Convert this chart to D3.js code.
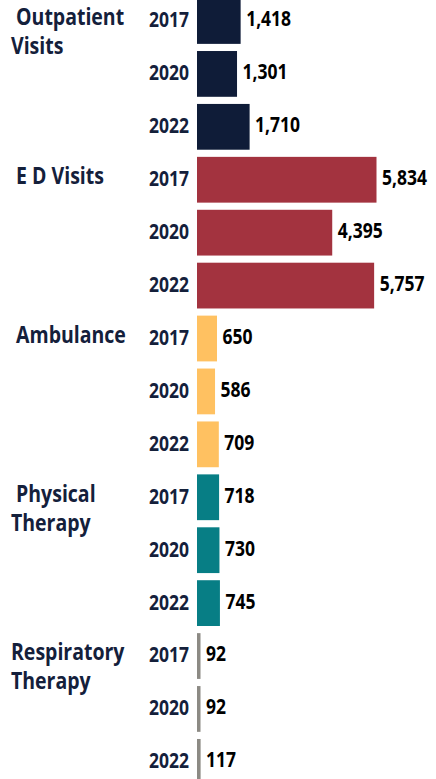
<!DOCTYPE html>
<html>
<head>
<meta charset="utf-8">
<script src="https://cdn.jsdelivr.net/npm/d3@7"></script>
<style>
    html, body { margin: 0; padding: 0; background: #fff; }
    svg { display: block; }
    text { font-family: "Open Sans", Lato, sans-serif; font-weight: 700; white-space: pre; }
</style>
</head>
<body>
<div id="chart"></div>
<script>
// Visits by service line, 2017 / 2020 / 2022
const width = 436;
const height = 779;

const categories = ["Outpatient Visits", "ED Visits", "Ambulance", "Physical Therapy", "Respiratory Therapy"];
const categoryLines = [[" Outpatient", "Visits"], [" E D Visits"], [" Ambulance"], [" Physical", "Therapy"], ["Respiratory", "Therapy"]];
const years = ["2017", "2020", "2022"];

const outpatientVisits = [1418, 1301, 1710];
const edVisits = [5834, 4395, 5757];
const ambulance = [650, 586, 709];
const physicalTherapy = [718, 730, 745];
const respiratoryTherapy = [92, 92, 117];

const seriesValues = [outpatientVisits, edVisits, ambulance, physicalTherapy, respiratoryTherapy];
const colors = ["#0f1c38", "#a3333f", "#ffc161", "#077e85", "#8c8a84"];

const navy = "#14203b";
const stretch = 1.19; // text in the original is a bit taller than wide

// Flatten into rows
const rows = [];
categories.forEach((cat, ci) => {
    years.forEach((year, yi) => {
        rows.push({ key: cat + "|" + year, cat, ci, year, yi, value: seriesValues[ci][yi] });
    });
});

const step = 52.92;
const padInner = 0.135;
const y = d3.scaleBand()
    .domain(rows.map(d => d.key))
    .range([-1.9, -1.9 + step * (rows.length - padInner)])
    .paddingInner(padInner)
    .paddingOuter(0);

const x = d3.scaleLinear()
    .domain([0, d3.max(edVisits)])
    .range([197, 376.5]);

const svg = d3.select("#chart")
    .append("svg")
    .attr("width", width)
    .attr("height", height);

// Bars
svg.selectAll(".bar")
    .data(rows)
    .enter()
    .append("rect")
    .attr("class", "bar")
    .attr("x", x(0))
    .attr("y", d => y(d.key))
    .attr("width", d => Math.max(x(d.value) - x(0), 3.5))
    .attr("height", y.bandwidth())
    .attr("fill", d => colors[d.ci]);

const fontSize = 17.5;
const catFontSize = 19.5;
const capShift = fontSize * 0.714 * stretch / 2;

function stretchedText(sel, px, py, size) {
    return sel.attr("transform", d => `translate(${px(d)},${py(d)}) scale(1,${stretch})`)
        .style("font-size", size + "px");
}

// Year labels
svg.selectAll(".year-label")
    .data(rows)
    .enter()
    .append("text")
    .attr("class", "year-label")
    .attr("text-anchor", "end")
    .attr("fill", navy)
    .call(stretchedText, d => 189, d => y(d.key) + y.bandwidth() / 2 + capShift - 1, fontSize)
    .text(d => d.year);

// Value labels
svg.selectAll(".value-label")
    .data(rows)
    .enter()
    .append("text")
    .attr("class", "value-label")
    .attr("text-anchor", "start")
    .attr("fill", "#000")
    .call(stretchedText, d => Math.max(x(d.value), x(0) + 3.5) + 5.5, d => y(d.key) + y.bandwidth() / 2 + capShift - 2, fontSize)
    .text(d => d3.format(",")(d.value));

// Category labels, next to the first year of each group
const catLabels = [];
categoryLines.forEach((lines, ci) => {
    lines.forEach((line, li) => {
        catLabels.push({ ci, li, line });
    });
});

svg.selectAll(".cat-label")
    .data(catLabels)
    .enter()
    .append("text")
    .attr("class", "cat-label")
    .attr("text-anchor", "start")
    .attr("fill", navy)
    .call(stretchedText, d => 11,
        d => y(categories[d.ci] + "|" + years[0]) + y.bandwidth() / 2 + capShift - 3 + d.li * 29, catFontSize)
    .text(d => d.line);
</script>
</body>
</html>
